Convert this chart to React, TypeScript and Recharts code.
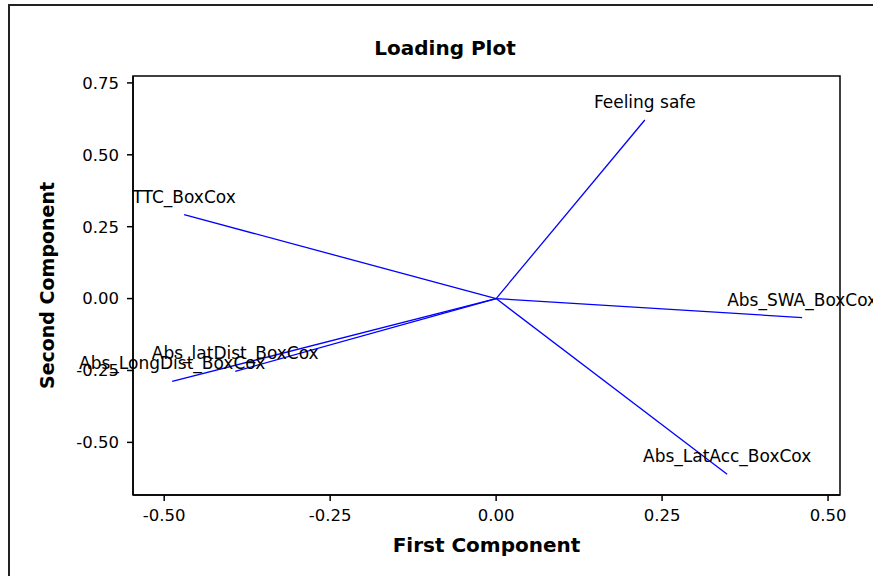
import { ComposedChart, Line, XAxis, YAxis, Label, ReferenceArea } from "recharts";

const variables = [
  "Feeling safe",
  "Abs_SWA_BoxCox",
  "Abs_LatAcc_BoxCox",
  "TTC_BoxCox",
  "Abs_LongDist_BoxCox",
  "Abs_latDist_BoxCox",
];
const firstComponent = [0.224, 0.461, 0.348, -0.47, -0.488, -0.393];
const secondComponent = [0.621, -0.066, -0.611, 0.292, -0.288, -0.253];

const xTicks = [-0.5, -0.25, 0, 0.25, 0.5];
const yTicks = [-0.5, -0.25, 0, 0.25, 0.5, 0.75];
const xDomain = [-0.547, 0.518];
const yDomain = [-0.683, 0.774];

const FONT = '"DejaVu Sans", Verdana, sans-serif';

const vectors = variables.map((name, i) => ({
  name,
  points: [
    { x: 0, y: 0 },
    { x: firstComponent[i], y: secondComponent[i] },
  ],
}));

const fmt = (v: number) => v.toFixed(2);

// label only the tip of each loading vector, centred just above it
function endLabel(name: string) {
  return (p: any) => {
    if (p.index !== 1) return <g key={`${name}-${p.index}`} />;
    return (
      <text
        key={name}
        x={p.x}
        y={p.y - 12}
        textAnchor="middle"
        fontFamily={FONT}
        fontSize={17}
        fill="#000"
      >
        {name}
      </text>
    );
  };
}

export default function App() {
  return (
    <div
      style={{
        position: "relative",
        width: 873,
        height: 576,
        overflow: "hidden",
        background: "#fff",
        fontFamily: FONT,
      }}
    >
      <style>{"body{margin:0}"}</style>
      <div
        style={{
          position: "absolute",
          left: 8,
          top: 4,
          width: 900,
          height: 620,
          borderLeft: "2px solid #222",
          borderTop: "2px solid #222",
        }}
      />
      <div
        style={{
          position: "absolute",
          left: 345,
          top: 36,
          width: 200,
          lineHeight: "24px",
          textAlign: "center",
          fontSize: 20,
          fontWeight: "bold",
          color: "#000",
        }}
      >
        Loading Plot
      </div>
      <div style={{ position: "absolute", left: 0, top: 0 }}>
        <ComposedChart
          width={873}
          height={576}
          margin={{ top: 76, right: 33, left: 0, bottom: 0 }}
        >
          <XAxis
            type="number"
            dataKey="x"
            domain={xDomain}
            allowDataOverflow
            ticks={xTicks}
            tickFormatter={fmt}
            height={81}
            tickSize={6}
            tickMargin={8}
            stroke="#000"
            strokeWidth={1.5}
            tick={{ fill: "#000", fontSize: 16.5, fontFamily: FONT }}
          >
            <Label
              content={({ viewBox }: any) => (
                <text
                  x={viewBox.x + viewBox.width / 2}
                  y={viewBox.y + 57}
                  textAnchor="middle"
                  fontFamily={FONT}
                  fontSize={20}
                  fontWeight="bold"
                  fill="#000"
                >
                  First Component
                </text>
              )}
            />
          </XAxis>
          <YAxis
            type="number"
            domain={yDomain}
            allowDataOverflow
            ticks={yTicks}
            tickFormatter={fmt}
            width={133}
            tickSize={6}
            tickMargin={8}
            stroke="#000"
            strokeWidth={1.5}
            tick={{ fill: "#000", fontSize: 16.5, fontFamily: FONT }}
          >
            <Label
              content={({ viewBox }: any) => {
                const cx = viewBox.x + 47;
                const cy = viewBox.y + viewBox.height / 2;
                return (
                  <text
                    x={cx}
                    y={cy}
                    transform={`rotate(-90 ${cx} ${cy})`}
                    textAnchor="middle"
                    dominantBaseline="central"
                    fontFamily={FONT}
                    fontSize={19}
                    fontWeight="bold"
                    fill="#000"
                  >
                    Second Component
                  </text>
                );
              }}
            />
          </YAxis>
          <ReferenceArea
            x1={xDomain[0]}
            x2={xDomain[1]}
            y1={yDomain[0]}
            y2={yDomain[1]}
            fill="none"
            stroke="#000"
            strokeWidth={1.5}
            ifOverflow="visible"
          />
          {vectors.map((v) => (
            <Line
              key={v.name}
              data={v.points}
              dataKey="y"
              type="linear"
              stroke="#0000ff"
              strokeWidth={1.3}
              dot={false}
              activeDot={false}
              isAnimationActive={false}
              label={endLabel(v.name)}
            />
          ))}
        </ComposedChart>
      </div>
    </div>
  );
}
